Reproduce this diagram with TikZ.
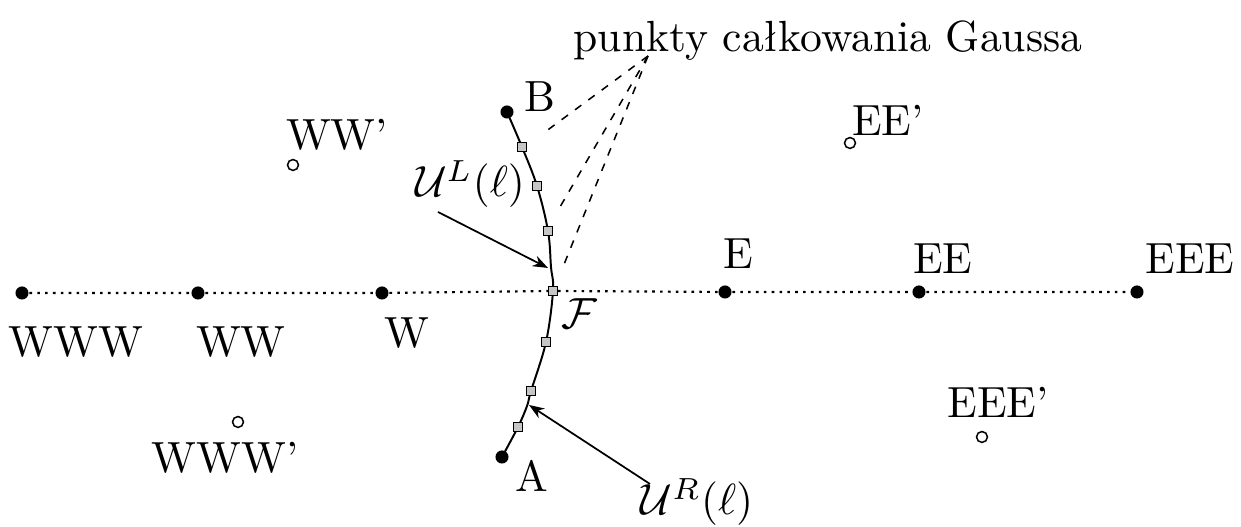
\documentclass[tikz,border=0pt]{standalone}
\usetikzlibrary{arrows.meta}
\begin{document}
\begin{tikzpicture}[x=0.0080580cm,y=-0.0080580cm,
  cell/.style={circle,fill=black,inner sep=0pt,minimum size=3pt},
  ghost/.style={circle,draw=black,fill=white,line width=0.35pt,inner sep=0pt,minimum size=2.5pt},
  gp/.style={rectangle,draw=black,fill=gray!45,line width=0.3pt,inner sep=0pt,minimum size=2pt},
  lbl/.style={anchor=base,inner sep=0pt},
  gridline/.style={line width=0.5pt,dash pattern=on 0.6pt off 1.2pt},
  facecurve/.style={line width=0.45pt},
  ptr/.style={line width=0.4pt,-{Stealth[length=3.5pt,width=2.6pt]}},
  hint/.style={line width=0.35pt,dash pattern=on 1.8pt off 2pt}]
\useasboundingbox (0,0) rectangle (1241,527);

% face curve
\draw[facecurve] plot[smooth,tension=0.6] coordinates {(507,112) (522,147) (537,186) (548,231) (551,267) (553,291) (546,342) (531,391) (527,406) (518,427) (502,457)};

% cell centres
\node[cell] (WWW) at (22,293) {};
\node[cell] (WW)  at (198,293) {};
\node[cell] (W)   at (382,293) {};
\node[gp]   (F)   at (553,291) {};
\node[cell] (E)   at (725,292) {};
\node[cell] (EE)  at (919,292) {};
\node[cell] (EEE) at (1137,292) {};
\draw[gridline] (WWW) -- (WW) -- (W) -- (F) -- (E) -- (EE) -- (EEE);

% end points of the face
\node[cell] (B) at (507,112) {};
\node[cell] (A) at (502,457) {};

% Gauss points
\node[gp] (g1) at (522,147) {};
\node[gp] (g2) at (537,186) {};
\node[gp] (g3) at (548,231) {};
\node[gp] (g4) at (546,342) {};
\node[gp] (g5) at (531,391) {};
\node[gp] (g6) at (518,427) {};

% ghost cells
\node[ghost] (WWp)  at (293,165) {};
\node[ghost] (WWWp) at (238,422) {};
\node[ghost] (EEp)  at (850,143) {};
\node[ghost] (EEEp) at (982,437) {};

% labels
\node[lbl] (lWWW) at (76,357) {WWW};
\node[lbl] (lWW)  at (241,357) {WW};
\node[lbl] (lW)   at (407,348) {W};
\node[lbl] (lE)   at (738,269) {E};
\node[lbl] (lEE)  at (943,274) {EE};
\node[lbl] (lEEE) at (1190,274) {EEE};
\node[lbl] (lWWp) at (337,150) {WW'};
\node[lbl] (lWWWp) at (225,473) {WWW'};
\node[lbl] (lEEp) at (888,136) {EE'};
\node[lbl] (lEEEp) at (998,418) {EEE'};
\node[lbl] (lB) at (540,112) {B};
\node[lbl] (lA) at (532,492) {A};
\node[lbl] (lF) at (579,329) {$\mathcal{F}$};
\node[lbl] (lUL) at (470,197) {$\mathcal{U}^{L}(\ell)$};
\node[lbl] (lUR) at (697,515) {$\mathcal{U}^{R}(\ell)$};
\node[lbl] (lG) at (828,52) {punkty ca\l kowania Gaussa};

% pointers
\coordinate (ulS) at (438,212);
\coordinate (ulT) at (548,268);
\coordinate (urS) at (650,484);
\coordinate (urT) at (529,405);
\draw[ptr] (ulS) -- (ulT);
\draw[ptr] (urS) -- (urT);

% dashed hints from the caption
\coordinate (gs) at (648,56);
\coordinate (d1) at (545,132);
\coordinate (d2) at (560,207);
\coordinate (d3) at (563,267);
\draw[hint] (gs) -- (d1);
\draw[hint] (gs) -- (d2);
\draw[hint] (gs) -- (d3);
\end{tikzpicture}
\end{document}
